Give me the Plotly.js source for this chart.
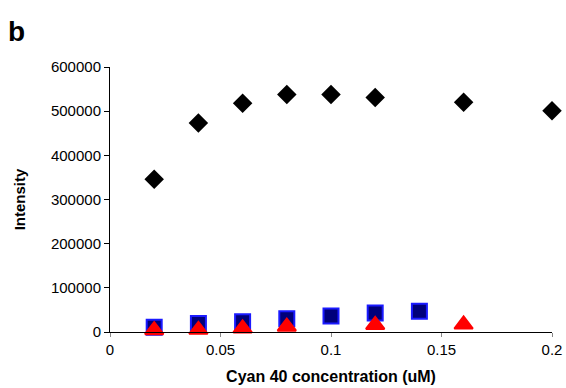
<!DOCTYPE html>
<html>
<head>
<meta charset="utf-8">
<script src="https://cdn.plot.ly/plotly-3.0.1.min.js"></script>
<style>html,body{margin:0;padding:0;background:#fff}#chart{width:566px;height:388px}</style>
</head>
<body>
<div id="chart"></div>
<script>
var diamondX = [0.02, 0.04, 0.06, 0.08, 0.10, 0.12, 0.16, 0.20];
var diamondY = [346000, 473000, 518000, 538000, 538000, 531000, 520000, 501000];
var squareX = [0.02, 0.04, 0.06, 0.08, 0.10, 0.12, 0.14];
var squareY = [11000, 19000, 23000, 30000, 36000, 43000, 47000];
var triangleX = [0.02, 0.04, 0.06, 0.08, 0.12, 0.16];
var triangleY = [4000, 5000, 8000, 12000, 16000, 17000];
var xTicks = [0, 0.05, 0.1, 0.15, 0.2];
var xTickText = ['0', '0.05', '0.1', '0.15', '0.2'];
var yTicks = [0, 100000, 200000, 300000, 400000, 500000, 600000];
var yTickText = ['0', '100000', '200000', '300000', '400000', '500000', '600000'];

var traces = [
  {x: diamondX, y: diamondY, mode: 'markers', type: 'scatter', cliponaxis: false,
   marker: {symbol: 'diamond', size: 15, color: '#000000', line: {width: 0}}},
  {x: squareX, y: squareY, mode: 'markers', type: 'scatter', cliponaxis: false,
   marker: {symbol: 'square', size: 15, color: '#00007a', line: {width: 2, color: '#1a1aff'}}},
  {x: triangleX, y: triangleY, mode: 'markers', type: 'scatter', cliponaxis: false,
   marker: {symbol: 'triangle-up', size: 16, color: '#ff0000', line: {width: 2, color: '#ff0000'}}}
];

var fam = 'Liberation Sans, Arial, sans-serif';
var tickFont = {family: fam, size: 15, color: '#000'};
var layout = {
  width: 566, height: 388,
  margin: {l: 110, r: 14, t: 67, b: 56},
  paper_bgcolor: '#fff', plot_bgcolor: '#fff',
  showlegend: false,
  font: tickFont,
  xaxis: {
    range: [0, 0.2], tickvals: xTicks, ticktext: xTickText,
    showgrid: false, zeroline: false, showline: true, linecolor: '#000', linewidth: 1,
    ticks: 'outside', ticklen: 4, tickcolor: '#888', tickfont: tickFont,
    title: {text: '<b>Cyan 40 concentration (uM)</b>', font: {family: fam, size: 16, color: '#000'}, standoff: 13}
  },
  yaxis: {
    range: [0, 600000], tickvals: yTicks, ticktext: yTickText,
    showgrid: false, zeroline: false, showline: true, linecolor: '#000', linewidth: 1,
    ticks: 'outside', ticklen: 5, tickcolor: '#000', tickfont: tickFont,
    title: {text: '<b>Intensity</b>', font: {family: fam, size: 15, color: '#000'}, standoff: 21}
  },
  annotations: [{
    text: '<b>b</b>', xref: 'paper', yref: 'paper', x: -0.235, y: 1.2,
    xanchor: 'left', yanchor: 'top', showarrow: false,
    font: {family: fam, size: 28, color: '#000'}
  }]
};
Plotly.newPlot('chart', traces, layout, {staticPlot: true, displayModeBar: false});
</script>
</body>
</html>
